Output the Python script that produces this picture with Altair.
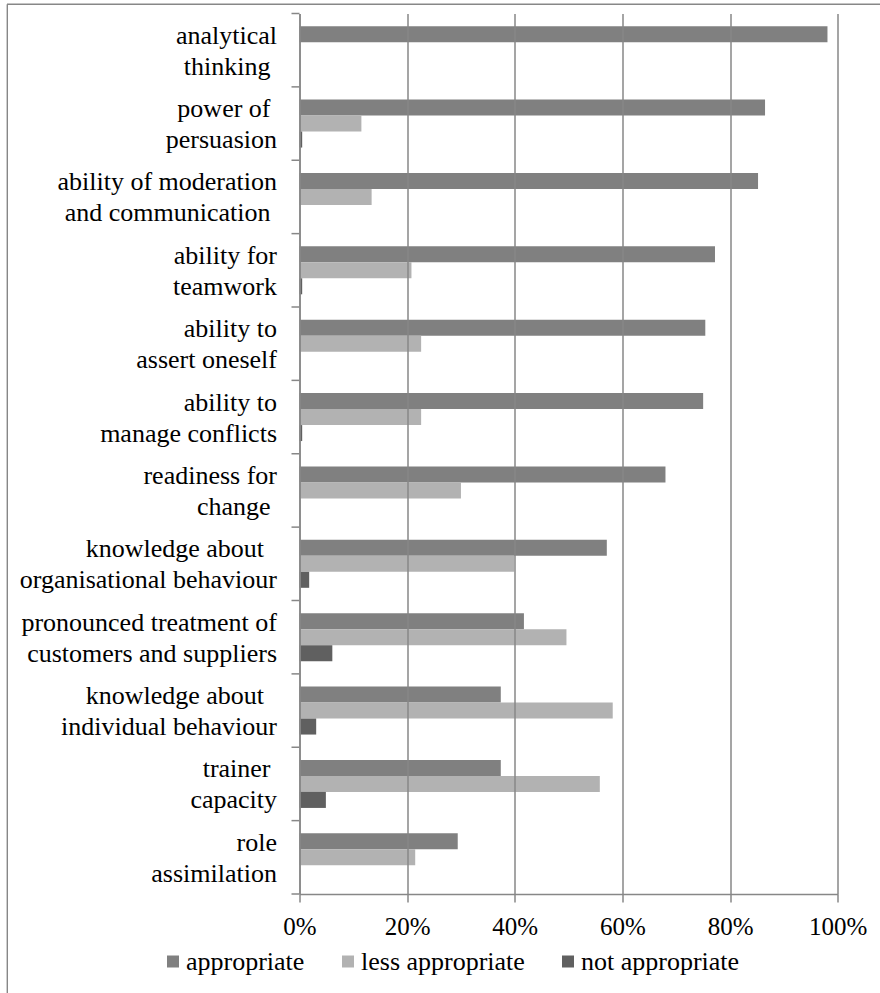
import altair as alt
import pandas as pd

# trailing gap kept after some label lines (no-break space + zero-width space)
SP = "\u00a0\u200b"

# Competence profile: share of answers per rating, in percent
categories = [
    "analytical|thinking" + SP,
    "power of" + SP + "|persuasion",
    "ability of moderation|and communication" + SP,
    "ability for|teamwork",
    "ability to|assert oneself",
    "ability to|manage conflicts",
    "readiness for|change" + SP,
    "knowledge about\u00a0" + SP + "|organisational behaviour",
    "pronounced treatment of|customers and suppliers",
    "knowledge about\u00a0" + SP + "|individual behaviour",
    "trainer" + SP + "|capacity",
    "role|assimilation",
]
series = ["appropriate", "less appropriate", "not appropriate"]
appropriate = [98.1, 86.5, 85.2, 77.2, 75.4, 75.0, 68.0, 57.1, 41.7, 37.4, 37.4, 29.4]
less_appropriate = [0, 11.5, 13.4, 20.8, 22.6, 22.6, 30.0, 39.9, 49.6, 58.2, 55.8, 21.5]
not_appropriate = [0, 0.5, 0, 0.5, 0, 0.5, 0, 1.8, 6.1, 3.1, 4.9, 0]
colors = ["#808080", "#b2b2b2", "#606060"]
x_ticks = [0, 20, 40, 60, 80, 100]

rows = []
for name, vals in zip(series, [appropriate, less_appropriate, not_appropriate]):
    for cat, v in zip(categories, vals):
        rows.append({"category": cat, "series": name, "value": v})
df = pd.DataFrame(rows)

FONT = "Liberation Serif, Times New Roman, serif"
GRAY = "#878787"
W, H = 538.2, 880.5
LINE_H = 31

y_axis = alt.Axis(
    title=None,
    ticks=False,
    tickSize=0,
    labelExpr="split(datum.label, '|')",
    labelFont=FONT,
    labelFontSize=26,
    labelColor="black",
    labelLineHeight=LINE_H,
    labelOffset=-LINE_H / 2 + 1,
    labelPadding=23,
    labelLimit=400,
    domainColor=GRAY,
    domainWidth=1.5,
    zindex=1,
)
y_scale = alt.Scale(paddingInner=0, paddingOuter=0)

bars = alt.Chart(df).mark_bar(clip=False).encode(
    y=alt.Y("category:N", sort=categories, scale=y_scale, axis=y_axis),
    yOffset=alt.YOffset(
        "series:N", sort=series, scale=alt.Scale(paddingInner=0, paddingOuter=0.794)
    ),
    x=alt.X(
        "value:Q",
        scale=alt.Scale(domain=[0, 100], nice=False),
        axis=alt.Axis(
            title=None,
            values=x_ticks,
            labelExpr="datum.value + '%'",
            labelFlush=False,
            labelFont=FONT,
            labelFontSize=25,
            labelColor="black",
            labelPadding=12,
            tickSize=8,
            tickColor=GRAY,
            tickWidth=1.5,
            domainColor=GRAY,
            domainWidth=1.5,
            grid=True,
            gridColor=GRAY,
            gridWidth=1.5,
            zindex=1,
        ),
    ),
    color=alt.Color(
        "series:N",
        sort=series,
        scale=alt.Scale(domain=series, range=colors),
        legend=alt.Legend(
            title=None,
            orient="none",
            legendX=-139.5,
            legendY=935,
            direction="horizontal",
            symbolType="square",
            symbolSize=144,
            symbolStrokeWidth=0,
            labelFont=FONT,
            labelFontSize=26,
            labelColor="black",
            labelOffset=0,
            columnPadding=30,
            padding=0,
            labelLimit=300,
        ),
    ),
)

# category tick marks sit on the band boundaries
cat_ticks = alt.Chart(pd.DataFrame({"category": categories})).mark_rule(
    color=GRAY, strokeWidth=1.5
).encode(
    y=alt.Y("category:N", sort=categories, bandPosition=0, scale=y_scale, axis=y_axis),
    x=alt.value(-8),
    x2=alt.value(0),
)

one = alt.Data(values=[{}])
bottom_tick = alt.Chart(one).mark_rule(color=GRAY, strokeWidth=1.5).encode(
    x=alt.value(-8), x2=alt.value(0), y=alt.value(H)
)

# outer frame lines
frame_top = alt.Chart(one).mark_rule(color=GRAY, strokeWidth=1.4, clip=False).encode(
    x=alt.value(-292.5), x2=alt.value(581), y=alt.value(-9.3)
)
frame_left = alt.Chart(one).mark_rule(color=GRAY, strokeWidth=1.4, clip=False).encode(
    x=alt.value(-292.2), y=alt.value(-9.3), y2=alt.value(980)
)

chart = alt.layer(bars, cat_ticks, bottom_tick, frame_top, frame_left).properties(
    width=W,
    height=H,
    autosize=alt.AutoSizeParams(type="none"),
    padding={"left": 299.5, "top": 13.5, "right": 880 - 299.5 - W, "bottom": 993 - 13.5 - H},
    background="white",
).configure_view(stroke=None)

chart.save("out.html", embed_options={"renderer": "svg", "actions": False})
